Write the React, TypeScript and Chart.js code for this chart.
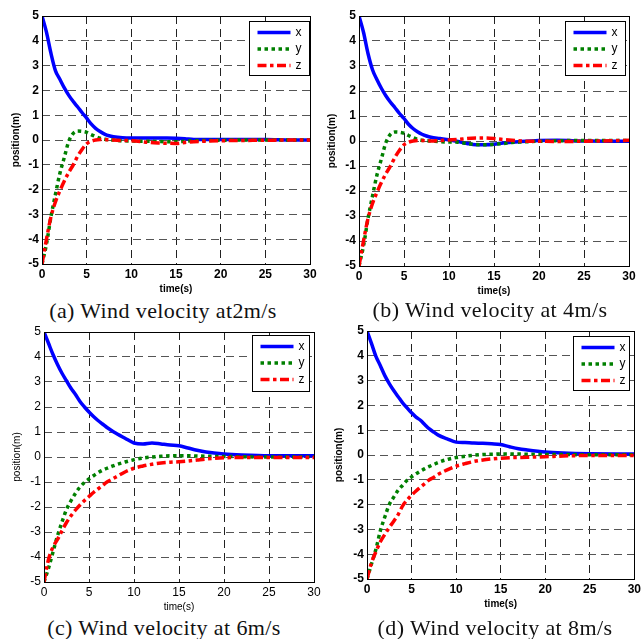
import React, { useEffect, useRef } from 'react';
import Chart from 'chart.js/auto';

// ---------- data ----------
const timeGrid = [0, 0.5, 1, 1.5, 2, 2.5, 3, 3.5, 4, 4.5, 5, 5.5, 6, 6.5, 7, 7.5, 8, 9, 10, 11, 12, 13, 14, 15, 16, 17, 18, 20, 22, 25, 28, 30];
const seriesLabels = ['x', 'y', 'z'];
const xTickValues = [0, 5, 10, 15, 20, 25, 30];
const yTickValues = [-5, -4, -3, -2, -1, 0, 1, 2, 3, 4, 5];
const captions = ['(a) Wind velocity at2m/s', '(b) Wind velocity at 4m/s', '(c) Wind velocity at 6m/s', '(d) Wind velocity at 8m/s'];

// (a) 2 m/s
const aX = [5, 4.35, 3.5, 2.8, 2.45, 2.1, 1.8, 1.55, 1.33, 1.1, 0.88, 0.65, 0.47, 0.34, 0.24, 0.17, 0.13, 0.09, 0.08, 0.08, 0.08, 0.08, 0.08, 0.07, 0.05, 0.02, 0.02, 0.02, 0.02, 0.02, 0, 0];
const aY = [-5, -4.2, -3.1, -2.2, -1.35, -0.7, -0.05, 0.27, 0.36, 0.35, 0.31, 0.22, 0.14, 0.07, 0.03, 0.01, 0, -0.03, -0.04, -0.05, -0.05, -0.06, -0.07, -0.07, -0.05, -0.03, -0.02, -0.01, 0, 0, 0, 0];
const aZ = [-5, -4.0, -3.1, -2.5, -2.05, -1.65, -1.3, -1.0, -0.65, -0.37, -0.15, -0.05, 0, 0.02, 0.02, 0.01, 0, -0.02, -0.03, -0.06, -0.1, -0.12, -0.13, -0.14, -0.1, -0.07, -0.05, -0.03, -0.02, -0.01, 0, 0];
// (b) 4 m/s
const bX = [5, 4.35, 3.5, 2.85, 2.45, 2.1, 1.8, 1.55, 1.33, 1.1, 0.9, 0.67, 0.5, 0.37, 0.27, 0.2, 0.15, 0.1, 0.05, -0.02, -0.1, -0.15, -0.15, -0.13, -0.08, -0.05, -0.02, 0.02, 0.03, 0, -0.01, -0.01];
const bY = [-5, -4.2, -3.1, -2.2, -1.35, -0.7, -0.05, 0.27, 0.36, 0.35, 0.31, 0.22, 0.14, 0.07, 0.03, 0.01, 0, -0.03, -0.04, -0.05, -0.1, -0.14, -0.15, -0.13, -0.1, -0.06, -0.04, -0.01, 0.01, 0.02, 0.02, 0.02];
const bZ = [-5, -4.0, -3.1, -2.5, -2.05, -1.65, -1.3, -1.0, -0.65, -0.37, -0.15, -0.05, 0, 0.02, 0.02, 0.01, 0, 0.02, 0.04, 0.06, 0.1, 0.12, 0.12, 0.1, 0.06, 0.03, 0, -0.01, -0.02, -0.01, 0.01, 0.03];
// (c) 6 m/s
const cX = [5, 4.55, 4.1, 3.7, 3.35, 3.05, 2.75, 2.5, 2.22, 2.0, 1.8, 1.62, 1.46, 1.32, 1.18, 1.06, 0.95, 0.75, 0.56, 0.52, 0.56, 0.52, 0.48, 0.45, 0.36, 0.27, 0.2, 0.12, 0.08, 0.05, 0.05, 0.05];
const cY = [-5, -4.45, -3.8, -3.15, -2.6, -2.1, -1.75, -1.45, -1.2, -1.02, -0.88, -0.75, -0.63, -0.53, -0.45, -0.38, -0.31, -0.2, -0.11, -0.04, 0, 0.03, 0.05, 0.05, 0.05, 0.04, 0.03, 0.02, 0.01, 0, 0, 0];
const cZ = [-5, -4.1, -3.6, -3.3, -2.95, -2.62, -2.35, -2.12, -1.92, -1.74, -1.58, -1.42, -1.28, -1.14, -1.0, -0.9, -0.8, -0.6, -0.45, -0.36, -0.29, -0.24, -0.21, -0.19, -0.16, -0.12, -0.08, -0.03, -0.02, -0.02, -0.02, -0.02];
// (d) 8 m/s
const dX = [5, 4.5, 3.98, 3.6, 3.2, 2.88, 2.6, 2.35, 2.1, 1.9, 1.7, 1.53, 1.4, 1.22, 1.05, 0.92, 0.8, 0.65, 0.52, 0.5, 0.48, 0.47, 0.45, 0.42, 0.33, 0.25, 0.2, 0.12, 0.08, 0.05, 0.04, 0.04];
const dY = [-5, -4.4, -3.8, -3.05, -2.5, -2.0, -1.7, -1.42, -1.22, -1.02, -0.88, -0.76, -0.65, -0.55, -0.46, -0.38, -0.3, -0.18, -0.1, -0.05, -0.01, 0.02, 0.03, 0.04, 0.04, 0.04, 0.03, 0.02, 0.02, 0.01, 0.01, 0.01];
const dZ = [-5, -4.35, -3.9, -3.5, -3.2, -2.92, -2.67, -2.4, -2.05, -1.82, -1.62, -1.45, -1.3, -1.15, -1.0, -0.9, -0.78, -0.6, -0.45, -0.35, -0.26, -0.2, -0.16, -0.13, -0.11, -0.1, -0.09, -0.07, -0.04, -0.02, -0.02, -0.02];

const panelSeries = [[aX, aY, aZ], [bX, bY, bZ], [cX, cY, cZ], [dX, dY, dZ]];

// ---------- layout / styles ----------
const panelLayout = [
  { left: 0, top: 0, w: 322, h: 296, padTop: 16, padRight: 12, yW: 42, xH: 32, yTitlePad: 10, bold: true, legend: { right: 1, top: 5, w: 60, h: 54 }, capCx: 163, capCy: 311 },
  { left: 322, top: 0, w: 322, h: 298, padTop: 16, padRight: 15, yW: 37, xH: 32, yTitlePad: 4, bold: true, legend: { right: 4, top: 5, w: 60, h: 54 }, capCx: 490, capCy: 310 },
  { left: 0, top: 316, w: 330, h: 298, padTop: 16, padRight: 16, yW: 44, xH: 32, yTitlePad: 11, bold: false, legend: { right: 5, top: 3, w: 57, h: 56 }, capCx: 164, capCy: 628 },
  { left: 322, top: 315, w: 322, h: 296, padTop: 16, padRight: 9, yW: 45, xH: 32, yTitlePad: 11, bold: true, legend: { right: 5, top: 5, w: 56, h: 54 }, capCx: 495, capCy: 628 },
];

const lineStyles = [
  { color: 'rgb(0,0,255)', dash: [] as number[], width: 3.5, order: 2 },
  { color: 'rgb(0,128,0)', dash: [3.5, 3.5], width: 3.5, order: 1 },
  { color: 'rgb(255,0,0)', dash: [9, 3.5, 3.5, 3.5], width: 3.5, order: 0 },
];

const frameLegendPlugin = {
  id: 'frameLegend',
  afterDatasetsDraw(chart: any, _args: any, opts: any) {
    const { ctx, chartArea: a } = chart;
    ctx.save();
    ctx.setLineDash([]);
    ctx.strokeStyle = '#000';
    ctx.lineWidth = 1;
    const l = Math.round(a.left) + 0.5, t = Math.round(a.top) + 0.5;
    const r = Math.round(a.right) + 0.5, b = Math.round(a.bottom) + 0.5;
    ctx.strokeRect(l, t, r - l, b - t);
    const lg = opts.box;
    const bx = Math.round(a.right - lg.right - lg.w) + 0.5;
    const by = Math.round(a.top + lg.top) + 0.5;
    ctx.fillStyle = '#fff';
    ctx.fillRect(bx, by, lg.w, lg.h);
    ctx.strokeRect(bx, by, lg.w, lg.h);
    chart.data.datasets.forEach((ds: any, i: number) => {
      const y = by + 11 + i * 16.5;
      ctx.save();
      ctx.beginPath();
      ctx.setLineDash(ds.borderDash || []);
      ctx.strokeStyle = ds.borderColor;
      ctx.lineWidth = ds.borderWidth;
      ctx.moveTo(bx + 8, y);
      ctx.lineTo(bx + 41, y);
      ctx.stroke();
      ctx.restore();
      ctx.fillStyle = '#000';
      ctx.font = '12px "Liberation Sans", Arial, sans-serif';
      ctx.textBaseline = 'middle';
      ctx.textAlign = 'left';
      ctx.fillText(ds.label, bx + 46, y);
    });
    ctx.restore();
  },
};

function Panel({ index }: { index: number }) {
  const ref = useRef<HTMLCanvasElement | null>(null);
  const L = panelLayout[index];
  useEffect(() => {
    if (!ref.current) return;
    const series = panelSeries[index];
    const weight = L.bold ? 'bold' : 'normal';
    const chart = new Chart(ref.current, {
      type: 'line',
      data: {
        datasets: series.map((vals, i) => ({
          label: seriesLabels[i],
          data: timeGrid.map((t, k) => ({ x: t, y: vals[k] })),
          borderColor: lineStyles[i].color,
          backgroundColor: lineStyles[i].color,
          borderWidth: lineStyles[i].width,
          borderDash: lineStyles[i].dash,
          borderCapStyle: 'butt',
          pointRadius: 0,
          fill: false,
          cubicInterpolationMode: 'monotone',
          order: lineStyles[i].order,
        })),
      },
      options: {
        animation: false,
        responsive: false,
        devicePixelRatio: 1,
        layout: { padding: { top: L.padTop, right: L.padRight, left: 0, bottom: 0 } },
        plugins: {
          legend: { display: false },
          tooltip: { enabled: false },
          frameLegend: { box: L.legend },
        } as any,
        scales: {
          x: {
            type: 'linear',
            min: xTickValues[0],
            max: xTickValues[xTickValues.length - 1],
            afterBuildTicks: (s: any) => { s.ticks = xTickValues.map((v) => ({ value: v })); },
            afterFit: (s: any) => { s.height = L.xH; },
            ticks: { color: '#000', padding: 3, font: { family: '"Liberation Sans", Arial, sans-serif', size: 12, weight: weight }, maxRotation: 0 },
            grid: { color: '#222', lineWidth: 1, drawTicks: false },
            border: { display: false, dash: [8, 5] },
            title: { display: true, text: 'time(s)', color: '#000', padding: { top: 0, bottom: 1 }, font: { family: '"Liberation Sans", Arial, sans-serif', size: 10, weight: weight } },
          },
          y: {
            type: 'linear',
            min: yTickValues[0],
            max: yTickValues[yTickValues.length - 1],
            afterBuildTicks: (s: any) => { s.ticks = yTickValues.map((v) => ({ value: v })); },
            afterFit: (s: any) => { s.width = L.yW; },
            ticks: { color: '#000', padding: 3, font: { family: '"Liberation Sans", Arial, sans-serif', size: 12, weight: weight } },
            grid: { color: '#555', lineWidth: 1, drawTicks: false },
            border: { display: false, dash: [8, 5] },
            title: { display: true, text: 'position(m)', color: '#000', padding: { top: L.yTitlePad, bottom: 0 }, font: { family: '"Liberation Sans", Arial, sans-serif', size: 10, weight: weight } },
          },
        },
      } as any,
      plugins: [frameLegendPlugin],
    });
    return () => chart.destroy();
  }, []);
  return (
    <canvas
      ref={ref}
      width={L.w}
      height={L.h}
      style={{ position: 'absolute', left: L.left, top: L.top, width: L.w, height: L.h }}
    />
  );
}

export default function App() {
  return (
    <div style={{ position: 'absolute', left: 0, top: 0, width: 644, height: 639, overflow: 'hidden', background: '#fff' }}>
      {panelLayout.map((L, i) => (
        <React.Fragment key={i}>
          <Panel index={i} />
          <div
            style={{
              position: 'absolute',
              left: L.capCx - 160,
              width: 320,
              top: L.capCy - 13,
              height: 26,
              lineHeight: '26px',
              textAlign: 'center',
              fontFamily: '"Liberation Serif", "Times New Roman", serif',
              fontSize: 22,
              letterSpacing: '0.4px',
              color: '#111',
              whiteSpace: 'nowrap',
            }}
          >
            {captions[i]}
          </div>
        </React.Fragment>
      ))}
    </div>
  );
}
